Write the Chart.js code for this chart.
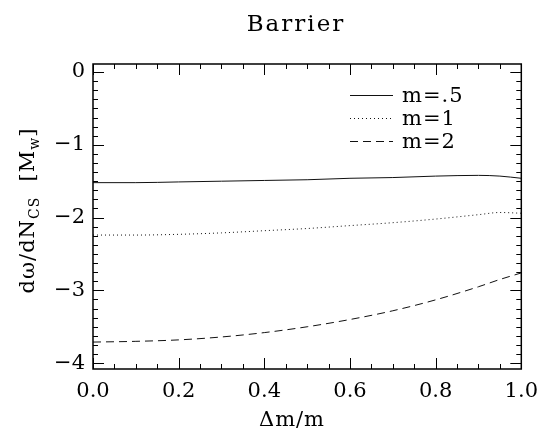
<!DOCTYPE html>
<html>
<head>
<meta charset="utf-8">
<script src="https://cdn.jsdelivr.net/npm/chart.js@4.4.0/dist/chart.umd.min.js"></script>
<style>
  html, body { margin: 0; padding: 0; background: #fff; }
  #wrap { width: 548px; height: 429px; }
</style>
</head>
<body>
<div id="wrap"><canvas id="barrier"></canvas></div>
<script>
// mass ratio dm/m along the x axis
const dmOverM = [0, 0.1, 0.2, 0.3, 0.4, 0.5, 0.6, 0.7, 0.8, 0.9, 0.95, 1.0];
// d(omega)/dN_cs for each mass
const mHalf = [-1.52, -1.52, -1.51, -1.50, -1.49, -1.48, -1.46, -1.45, -1.43, -1.42, -1.43, -1.46];
const mOne = [-2.24, -2.24, -2.23, -2.21, -2.18, -2.15, -2.11, -2.07, -2.02, -1.96, -1.93, -1.94];
const mTwo = [-3.71, -3.70, -3.68, -3.64, -3.58, -3.50, -3.40, -3.28, -3.13, -2.95, -2.85, -2.76];
const seriesNames = ["m=.5", "m=1", "m=2"];
const xTicks = [0, 0.2, 0.4, 0.6, 0.8, 1.0];
const yTicks = [-4, -3, -2, -1, 0];

const serif = "'DejaVu Serif', serif";
const ink = "#000";

const toPoints = (ys) => ys.map((y, i) => ({ x: dmOverM[i], y: y }));

//draws frame, inward ticks, title, y label and legend
const idlFrame = {
  id: "idlFrame",
  afterDraw(chart) {
    const ctx = chart.ctx;
    const a = chart.chartArea;
    const xs = chart.scales.x;
    const ys = chart.scales.y;
    ctx.save();
    ctx.strokeStyle = ink;
    ctx.lineWidth = 1.5;
    ctx.strokeRect(a.left, a.top, a.right - a.left, a.bottom - a.top);

    ctx.lineWidth = 1;
    ctx.beginPath();
    for (let v = 0; v <= 1.0001; v += 0.05) {
      const px = Math.round(xs.getPixelForValue(v)) + 0.5;
      const major = Math.abs(v / 0.2 - Math.round(v / 0.2)) < 1e-6;
      const len = major ? 11 : 5;
      ctx.moveTo(px, a.bottom); ctx.lineTo(px, a.bottom - len);
      ctx.moveTo(px, a.top); ctx.lineTo(px, a.top + len);
    }
    for (let v = -4; v <= 0.0001; v += 0.125) {
      const py = Math.round(ys.getPixelForValue(v)) + 0.5;
      const major = Math.abs(v - Math.round(v)) < 1e-6;
      const len = major ? 11 : 5;
      ctx.moveTo(a.left, py); ctx.lineTo(a.left + len, py);
      ctx.moveTo(a.right, py); ctx.lineTo(a.right - len, py);
    }
    ctx.stroke();

    ctx.fillStyle = ink;
    ctx.textBaseline = "alphabetic";
    // title
    ctx.letterSpacing = "2px";
    ctx.font = "23px " + serif;
    ctx.textAlign = "center";
    ctx.fillText("Barrier", 296, 31);
    // x label
    ctx.letterSpacing = "1px";
    ctx.font = "21px " + serif;
    ctx.fillText("Δm/m", 292, 426);

    // y label with subscripts, rotated
    const parts = [
      { t: "dω/dN", size: 21, dy: 0 },
      { t: "CS", size: 14, dy: 5 },
      { t: "  [M", size: 21, dy: 0 },
      { t: "w", size: 14, dy: 5 },
      { t: "]", size: 21, dy: 0 },
    ];
    ctx.textAlign = "left";
    let total = 0;
    parts.forEach((p) => {
      ctx.font = p.size + "px " + serif;
      p.w = ctx.measureText(p.t).width;
      total += p.w;
    });
    ctx.save();
    ctx.translate(34, (a.top + a.bottom) / 2 - 6);
    ctx.rotate(-Math.PI / 2);
    let cx = -total / 2;
    parts.forEach((p) => {
      ctx.font = p.size + "px " + serif;
      ctx.fillText(p.t, cx, p.dy);
      cx += p.w;
    });
    ctx.restore();

    // legend in upper right of the plot
    ctx.letterSpacing = "1px";
    ctx.font = "21px " + serif;
    chart.data.datasets.forEach((ds, i) => {
      const rowY = a.top + 31 + i * 23;
      ctx.save();
      ctx.lineWidth = 1;
      ctx.strokeStyle = ds.borderColor;
      ctx.setLineDash(ds.borderDash || []);
      ctx.beginPath();
      ctx.moveTo(350, rowY + 0.5);
      ctx.lineTo(393, rowY + 0.5);
      ctx.stroke();
      ctx.restore();
      ctx.fillText(ds.label, 402, rowY + 7);
    });
    ctx.restore();
  },
};

const line = (label, ys, dash) => ({
  label: label,
  data: toPoints(ys),
  borderColor: "#111",
  borderWidth: 1,
  borderDash: dash,
  pointRadius: 0,
  fill: false,
  cubicInterpolationMode: "monotone",
});

new Chart(document.getElementById("barrier"), {
  type: "line",
  plugins: [idlFrame],
  data: {
    datasets: [
      line(seriesNames[0], mHalf, []),
      line(seriesNames[1], mOne, [1, 3]),
      line(seriesNames[2], mTwo, [8, 5]),
    ],
  },
  options: {
    responsive: true,
    maintainAspectRatio: false,
    animation: false,
    layout: { padding: { left: 0, right: 26, top: 64, bottom: 0 } },
    plugins: {
      legend: { display: false },
      tooltip: { enabled: false },
      title: { display: false },
    },
    scales: {
      x: {
        type: "linear",
        min: 0,
        max: 1,
        grid: { display: false, drawTicks: false },
        border: { display: false },
        afterBuildTicks: (s) => { s.ticks = xTicks.map((v) => ({ value: v })); },
        afterFit: (s) => { s.height = 60; },
        ticks: {
          color: ink,
          padding: 10,
          maxRotation: 0,
          font: { family: serif, size: 21 },
          callback: (v) => Number(v).toFixed(1),
        },
      },
      y: {
        type: "linear",
        min: -4.08,
        max: 0.11,
        grid: { display: false, drawTicks: false },
        border: { display: false },
        afterBuildTicks: (s) => { s.ticks = yTicks.map((v) => ({ value: v })); },
        afterFit: (s) => { s.width = 93; },
        ticks: {
          color: ink,
          padding: 8,
          font: { family: serif, size: 21 },
          callback: (v) => (v < 0 ? "−" + Math.abs(v) : String(v)),
        },
      },
    },
  },
});
</script>
</body>
</html>
